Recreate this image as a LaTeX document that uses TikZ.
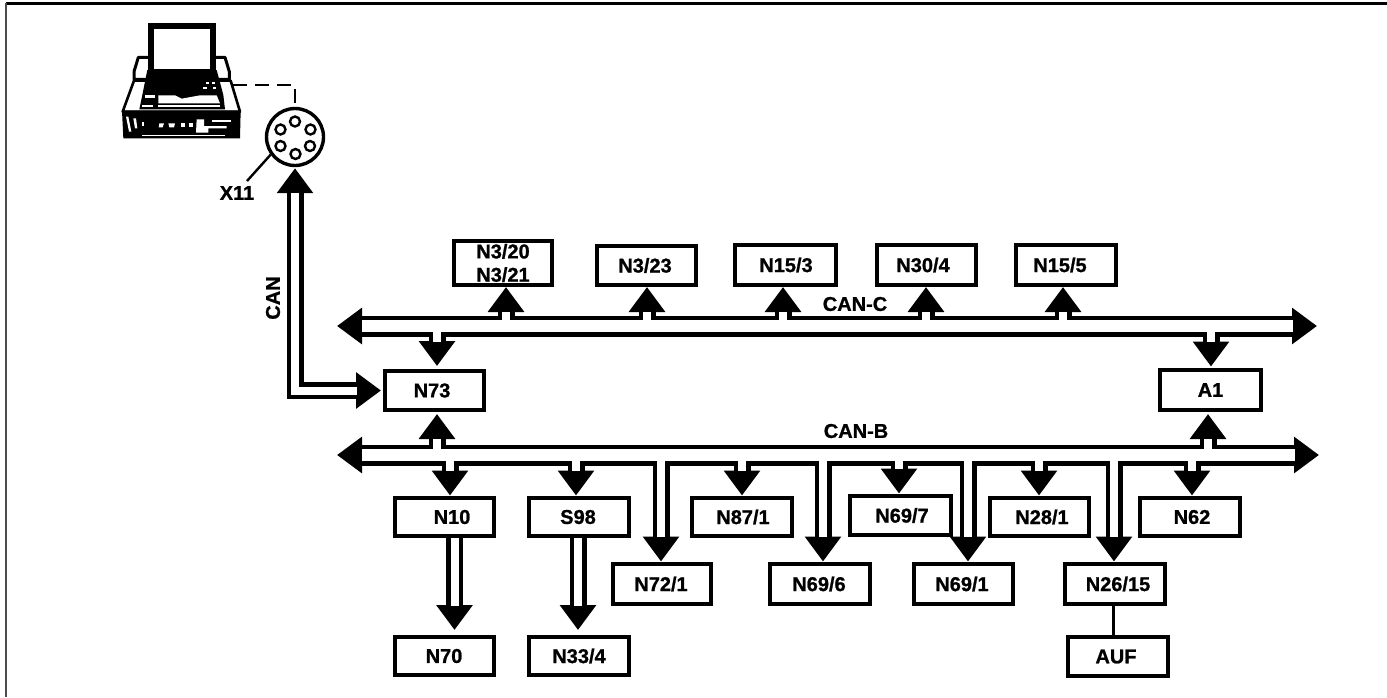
\documentclass[tikz,border=0pt]{standalone}
\usepackage{fontspec}
\setmainfont{Liberation Sans}[BoldFeatures={FakeBold=1.0}]
\usetikzlibrary{arrows.meta,calc}
\pgfdeclarelayer{wireback}
\pgfsetlayers{wireback,main}
\newdimen\pxu \pxu=0.75pt
\tikzset{
  boxnode/.style={draw=black,line width=4\pxu,inner sep=0pt,align=center,font=\bfseries\fontsize{15}{16.5}\selectfont,text=black},
  lbl/.style={inner sep=0pt,font=\bfseries\fontsize{15}{16.5}\selectfont,text=black},
  hd/.style={-{Triangle[width=26.25pt,length=18.75pt]}},
  hdboth/.style={{Triangle[width=26.25pt,length=18.75pt]}-{Triangle[width=26.25pt,length=18.75pt]}},
  busblack/.style={line width=21\pxu,draw=black,line join=miter},
  buswhite/.style={line width=12\pxu,draw=white},
  stemblack/.style={line width=17\pxu,draw=black,line join=miter},
  stemwhite/.style={line width=8\pxu,draw=white,line join=miter},
  thinline/.style={line width=2.6\pxu,draw=black},
  pin/.style={circle,draw=black,line width=2.4\pxu,minimum size=10\pxu,inner sep=0pt},
}
% box: name, x1,y1,x2,y2 (outer edges in px), doubled text shift, text
\newcommand\bx[7]{\node[boxnode,minimum width={(#4-#2-4)*0.75pt},minimum height={(#5-#3-4)*0.75pt}] (#1) at ({(#2+#4)/2},{(#3+#5)/2}) {\hspace*{#6\pxu}#7};}
% stem: start, end, gap at the tip
\newcommand\stem[3]{%
  \begin{pgfonlayer}{wireback}\draw[stemblack,hd,shorten >=#3\pxu] (#1) -- (#2);\end{pgfonlayer}
  \draw[stemwhite,shorten >={(#3+24.5)*\pxu}] (#1) -- (#2);}
\begin{document}
\begin{tikzpicture}[x=0.75pt,y=-0.75pt]
\useasboundingbox (0,0) rectangle (1387,697);
% frame
\coordinate (ftl) at (6,3.3);
\coordinate (ftr) at (1387,3.3);
\coordinate (fbl) at (6,697);
\draw[line width=2.6\pxu] (ftl) -- (ftr);
\draw[line width=1.8\pxu,black!70] (ftl) -- (fbl);

% laptop
\begin{scope}[shift={(60,20)},x=0.25pt,y=-0.25pt,line join=round]
  \filldraw[fill=white,draw=black,line width=2.6\pxu] (222,182)--(512,182)--(540,275)--(188,275)--cycle;
  \fill[black] (186,272)--(542,272)--(540,355)--(190,355)--cycle;
  \fill[white] (198,290)--(205,290)--(214,335)--(207,335)--cycle;
  \fill[white] (220,295)--(228,295)--(232,325)--(225,325)--cycle;
  \fill[white] (245,305) rectangle (252,318);
  \fill[white] (298,310)--(312,310)--(308,322)--(296,322)--cycle;
  \fill[white] (325,310)--(345,310)--(342,322)--(328,322)--cycle;
  \fill[white] (362,308) rectangle (375,322);
  \fill[white] (388,308) rectangle (398,322);
  \fill[white] (410,298)--(432,298)--(432,318)--(500,318)--(500,325)--(445,325)--(445,338)--(408,338)--cycle;
  \fill[white] (455,300) rectangle (512,306);
  \fill[white] (245,345) rectangle (495,349);
  \filldraw[fill=white,draw=black,line width=3\pxu] (235,112)--(495,112)--(508,155)--(508,178)--(222,178)--(222,155)--cycle;
  \fill[black] (262,150)--(470,150)--(490,225)--(495,268)--(238,268)--(248,220)--cycle;
  \fill[white] (285,155) rectangle (305,160);
  \fill[white] (310,155) rectangle (420,160);
  \fill[white] (430,155) rectangle (445,160);
  \fill[white] (295,226)--(345,226)--(365,236)--(420,226)--(470,226)--(480,250)--(295,250)--cycle;
  \fill[white] (247,254) rectangle (280,262);
  \fill[white] (295,254) rectangle (480,262);
  \fill[white] (255,225) rectangle (285,235);
  \fill[white] (438,186) rectangle (446,192);
  \fill[white] (456,186) rectangle (464,192);
  \fill[white] (430,202) rectangle (442,208);
  \fill[white] (458,202) rectangle (468,208);
  \fill[black] (265,10) rectangle (467,160);
  \fill[white] (282,28) rectangle (450,148);
\end{scope}
\coordinate (lap) at (233,85);

% connector plug
\node[circle,draw=black,line width=3.4\pxu,minimum size=57\pxu,inner sep=0pt] (x11) at (295,137) {};
\foreach \n/\px/\py in {1/295.0/121.5,2/280.5/129.5,3/310.5/129.5,4/280.5/146.0,5/310.0/146.0,6/295.5/154.0}
  \node[pin] (pin\n) at (\px,\py) {};
\draw[thinline,dash pattern=on 14\pxu off 8\pxu] (lap) -| (x11.north);
\node[lbl] (xl) at (237,193) {X11};
\coordinate (lead) at (247,181);
\draw[line width=2.4\pxu] (x11.216) -- (lead);

% boxes
\bx{n320}{452}{239}{554}{287}{0}{N3/20\\[1pt]N3/21}
\bx{n323}{595}{244}{698}{287}{-3}{N3/23}
\bx{n153}{733}{243}{838}{287}{1}{N15/3}
\bx{n304}{875}{243}{978}{287}{-7}{N30/4}
\bx{n155}{1014}{243}{1118}{287}{-12}{N15/5}
\bx{n73}{383}{369}{486}{412}{-5}{N73}
\bx{a1}{1158}{368}{1263}{412}{0}{A1}
\bx{n10}{393}{496}{496}{538}{15}{N10}
\bx{s98}{527}{496}{631}{538}{-2}{S98}
\bx{n871}{690}{496}{794}{538}{2}{N87/1}
\bx{n697}{848}{494}{953}{537}{3}{N69/7}
\bx{n281}{988}{496}{1091}{538}{5}{N28/1}
\bx{n62}{1138}{496}{1242}{538}{4}{N62}
\bx{n721}{611}{562}{713}{606}{-2}{N72/1}
\bx{n696}{768}{562}{872}{606}{-2}{N69/6}
\bx{n691}{912}{562}{1015}{606}{-3}{N69/1}
\bx{n2615}{1063}{562}{1167}{606}{6}{N26/15}
\bx{n70}{393}{635}{496}{677}{-1}{N70}
\bx{n334}{527}{635}{631}{677}{0}{N33/4}
\bx{auf}{1066}{635}{1170}{678}{-4}{AUF}

% buses
\coordinate (cl) at (337,326);
\coordinate (cr) at (1317,326);
\coordinate (bl) at (337,455);
\coordinate (br) at (1319,455);
\begin{pgfonlayer}{wireback}
  \draw[busblack,hdboth] (cl) -- (cr);
  \draw[busblack,hdboth] (bl) -- (br);
\end{pgfonlayer}
\draw[buswhite,shorten <=24.5\pxu,shorten >=24.5\pxu] (cl) -- (cr);
\draw[buswhite,shorten <=24.5\pxu,shorten >=24.5\pxu] (bl) -- (br);

% CAN-C stems
\foreach \c/\x/\t in {c1/506/n320,c2/647/n323,c3/783/n153,c4/926/n304,c5/1063/n155}{
  \coordinate (\c) at (\x,326);
  \stem{\c}{\c |- \t.south}{0}
}
\coordinate (c6) at (437,326);
\stem{c6}{c6 |- n73.north}{3}
\coordinate (c7) at (1211,326);
\stem{c7}{c7 |- a1.north}{1.5}

% CAN-B stems
\coordinate (b0) at (437,455);
\stem{b0}{b0 |- n73.south}{2}
\coordinate (b00) at (1208,455);
\stem{b00}{b00 |- a1.south}{2}
\foreach \c/\x/\t in {b1/450/n10,b2/576/s98,b3/661/n721,b4/742/n871,b5/823/n696,b6/899/n697,b7/968/n691,b8/1039/n281,b9/1114/n2615,b10/1192/n62}{
  \coordinate (\c) at (\x,455);
  \stem{\c}{\c |- \t.north}{0.5}
}

% lower stems
\coordinate (d1) at (454.5,500);
\stem{d1 |- n10.south}{d1 |- n70.north}{5}
\coordinate (d2) at (578,500);
\stem{d2 |- s98.south}{d2 |- n334.north}{5}
\coordinate (d3) at (1113.7,600);
\draw[line width=2.8\pxu] (d3 |- n2615.south) -- (d3 |- auf.north);

% X11 to N73
\begin{pgfonlayer}{wireback}
  \draw[stemblack,hdboth,shorten <=1\pxu,shorten >=2\pxu] (x11.south) |- (n73.west);
\end{pgfonlayer}
\draw[stemwhite,shorten <=25.5\pxu,shorten >=26.5\pxu] (x11.south) |- (n73.west);

% labels
\node[lbl] (lcc) at (855,304) {CAN-C};
\node[lbl] (lcb) at (856,431) {CAN-B};
\node[lbl,rotate=90] (lcan) at (273,298) {CAN};
\end{tikzpicture}
\end{document}
